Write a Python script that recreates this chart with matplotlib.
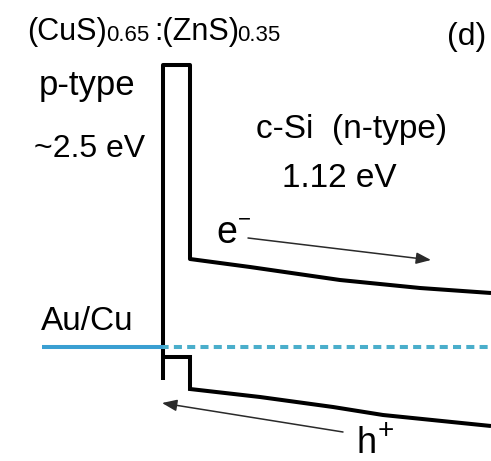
import matplotlib.pyplot as plt

# band edges, in image units (x to the right, y downward)
cb_x = [190, 250, 340, 420, 491]
cb_y = [259, 267, 280, 288, 293]
vb_x = [190, 260, 333, 383, 491]
vb_y = [389, 397, 407, 415, 426]

# CuS:ZnS layer outline
layer_left = 163
layer_right = 190
layer_top = 65
layer_bottom = 380
vb_step = 357

# Au/Cu Fermi level
fermi_y = 347
contact_x = [42, 163]

# carrier arrows (tail, head)
e_arrow = [(248, 238), (431, 260)]
h_arrow = [(343, 432), (162, 403)]

plt.rcParams['font.family'] = ['Liberation Sans', 'DejaVu Sans']

fig = plt.figure(figsize=(4.91, 4.61), dpi=100)
ax = fig.add_axes([0, 0, 1, 1])
ax.set_xlim(0, 491)
ax.set_ylim(461, 0)
ax.axis('off')

lw = 2.9
ax.plot([layer_left, layer_left, layer_right, layer_right] + cb_x[1:],
        [layer_bottom, layer_top, layer_top, cb_y[0]] + cb_y[1:],
        color='black', lw=lw, solid_joinstyle='round', solid_capstyle='butt')
ax.plot([layer_left, layer_right, layer_right] + vb_x[1:],
        [vb_step, vb_step, vb_y[0]] + vb_y[1:],
        color='black', lw=lw, solid_joinstyle='miter', solid_capstyle='butt')

# Fermi level: solid in the contact, dashed across the junction
ax.plot(contact_x, [fermi_y, fermi_y], color='#3a9fd2', lw=lw, solid_capstyle='butt')
ax.plot([contact_x[1], 491], [fermi_y, fermi_y], color='#4aaecb', lw=lw,
        linestyle=(0.6, (2.0, 1.3)))

for tail, head in (e_arrow, h_arrow):
    ax.annotate('', xy=head, xytext=tail,
                arrowprops=dict(arrowstyle='-|>,head_length=0.9,head_width=0.35',
                                color='#2a2a2a', lw=1.1, shrinkA=0, shrinkB=0))

# labels
ax.text(27, 40, '(CuS)', fontsize=22, va='baseline')
ax.text(106, 41, '0.65', fontsize=16, va='baseline')
ax.text(154, 40, ':(ZnS)', fontsize=22, va='baseline')
ax.text(237, 41, '0.35', fontsize=16, va='baseline')
ax.text(447, 45, '(d)', fontsize=23, va='baseline')
ax.text(39, 95, 'p-type', fontsize=25, va='baseline')
ax.text(34, 157, '~2.5 eV', fontsize=23, va='baseline')
ax.text(256, 138, 'c-Si  (n-type)', fontsize=24, va='baseline')
ax.text(282, 187, '1.12 eV', fontsize=24, va='baseline')
ax.text(41, 330, 'Au/Cu', fontsize=24, va='baseline')
ax.text(216, 243, 'e', fontsize=27, va='baseline')
ax.text(238, 225, '−', fontsize=16, va='baseline')
ax.text(357, 453, 'h', fontsize=26, va='baseline')
ax.text(378, 438, '+', fontsize=20, va='baseline')

fig.savefig('out.png', dpi=100)
